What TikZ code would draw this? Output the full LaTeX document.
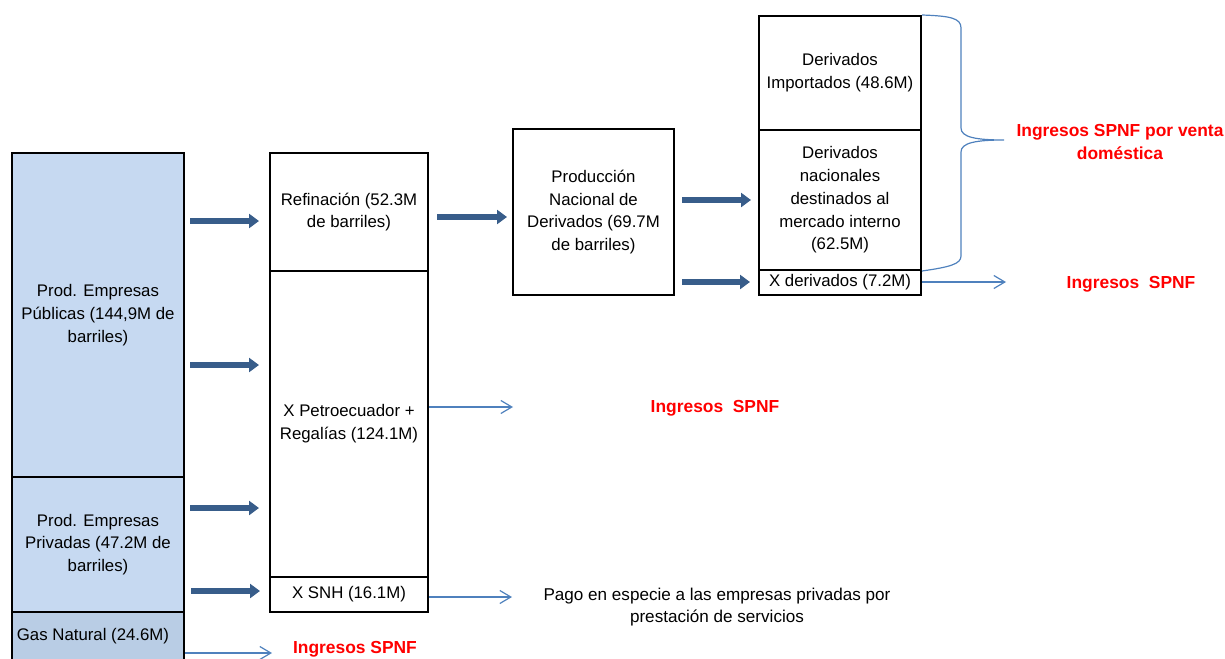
\documentclass[tikz,border=0pt]{standalone}
\usepackage{fontspec}
\setmainfont{Liberation Sans}
\usetikzlibrary{arrows.meta}
\definecolor{fillA}{RGB}{198,217,241}
\definecolor{fillB}{RGB}{185,205,229}
\definecolor{darrow}{RGB}{56,93,138}
\definecolor{tline}{RGB}{79,129,189}
\definecolor{redtxt}{RGB}{255,0,0}
\begin{document}
\begin{tikzpicture}[x=1pt,y=-1pt,
  box/.style={draw=black, line width=2pt, rectangle, inner sep=0pt, align=center,
    font=\fontsize{16.8}{22.7}\selectfont},
  txt/.style={inner sep=0pt, align=center, font=\fontsize{17.1}{22.7}\selectfont},
  redlbl/.style={inner sep=0pt, align=center, text=redtxt, font=\fontsize{17.4}{23}\selectfont\bfseries},
  fatarrow/.style={draw=darrow, line width=6.5pt, -{Triangle[length=10pt,width=14pt]}},
  thinarrow/.style={draw=tline, line width=1.2pt, -{Straight Barb[length=11pt,width=13pt]}},
  bracestyle/.style={draw=tline, line width=1.2pt}
]
\useasboundingbox (0,0) rectangle (1225,658);
\clip (0,0) rectangle (1225,658);

% left column
\node[box, fill=fillA, minimum width=172pt, minimum height=324pt] (pub) at (98,315)
  {Prod. Empresas\\Públicas (144,9M de\\barriles)};
\node[box, fill=fillA, minimum width=172pt, minimum height=135pt] (priv) at (98,544.5)
  {Prod. Empresas\\Privadas (47.2M de\\barriles)};
\node[box, fill=fillB, minimum width=172pt, minimum height=70pt] (gas) at (98,647) {};
\node[txt, font=\fontsize{16.8}{22.7}\selectfont] (gaslbl) at (93,636) {Gas Natural (24.6M)};

% middle column
\node[box, minimum width=158pt, minimum height=118pt] (ref) at (349,212)
  {Refinación (52.3M\\de barriles)};
\node[box, minimum width=158pt, minimum height=306pt] (pet) at (349,424)
  {X Petroecuador +\\Regalías (124.1M)};
\node[box, minimum width=158pt, minimum height=35pt] (snh) at (349,594.5)
  {X SNH (16.1M)};

% production
\node[box, minimum width=161pt, minimum height=166pt] (prod) at (593.5,212)
  {Producción\\Nacional de\\Derivados (69.7M\\de barriles)};

% right column
\node[box, minimum width=162pt, minimum height=114pt] (imp) at (840,73)
  {Derivados\\Importados (48.6M)};
\node[box, minimum width=162pt, minimum height=140pt] (nac) at (840,200)
  {Derivados\\nacionales\\destinados al\\mercado interno\\(62.5M)};
\node[box, minimum width=162pt, minimum height=25pt] (xder) at (840,282.5)
  {X derivados (7.2M)};

% labels
\node[redlbl] (ing1) at (715,408) {Ingresos\ \ SPNF};
\node[redlbl] (ing2) at (1131,284) {Ingresos\ \ SPNF};
\node[redlbl] (ing3) at (1120,142) {Ingresos SPNF por venta\\doméstica};
\node[redlbl, anchor=base] (ing4) at (355,653) {Ingresos SPNF};
\node[txt] (pago) at (717,607) {Pago en especie a las empresas privadas por\\prestación de servicios};

% fat arrows
\coordinate (f1s) at (190,221); \coordinate (f1e) at (259,221);
\coordinate (f2s) at (437,217); \coordinate (f2e) at (507,217);
\coordinate (f3s) at (682,200); \coordinate (f3e) at (751,200);
\coordinate (f4s) at (682,282); \coordinate (f4e) at (750,282);
\coordinate (f5s) at (190,365); \coordinate (f5e) at (259,365);
\coordinate (f6s) at (190,508); \coordinate (f6e) at (259,508);
\coordinate (f7s) at (191,591); \coordinate (f7e) at (260,591);
\foreach \i in {1,...,7} { \draw[fatarrow] (f\i s) -- (f\i e); }

% thin arrows
\coordinate (t1) at (513,407);
\coordinate (t2) at (1006,282);
\coordinate (t3) at (512,597);
\coordinate (t4) at (272,653);
\draw[thinarrow] (t1 -| pet.east) -- (t1);
\draw[thinarrow] (t2 -| xder.east) -- (t2);
\draw[thinarrow] (t3 -| snh.east) -- (t3);
\draw[thinarrow] (t4 -| gas.east) -- (t4);

% brace
\coordinate (btip) at (1004,140);
\draw[bracestyle] (imp.north east) .. controls (950,16) and (961,18) .. (961,28)
  -- (961,128) .. controls (961,137) and (975,140) .. (btip)
  .. controls (975,140) and (961,143) .. (961,152)
  -- (961,256) .. controls (961,264) and (950,267) .. (nac.south east);
\end{tikzpicture}
\end{document}
